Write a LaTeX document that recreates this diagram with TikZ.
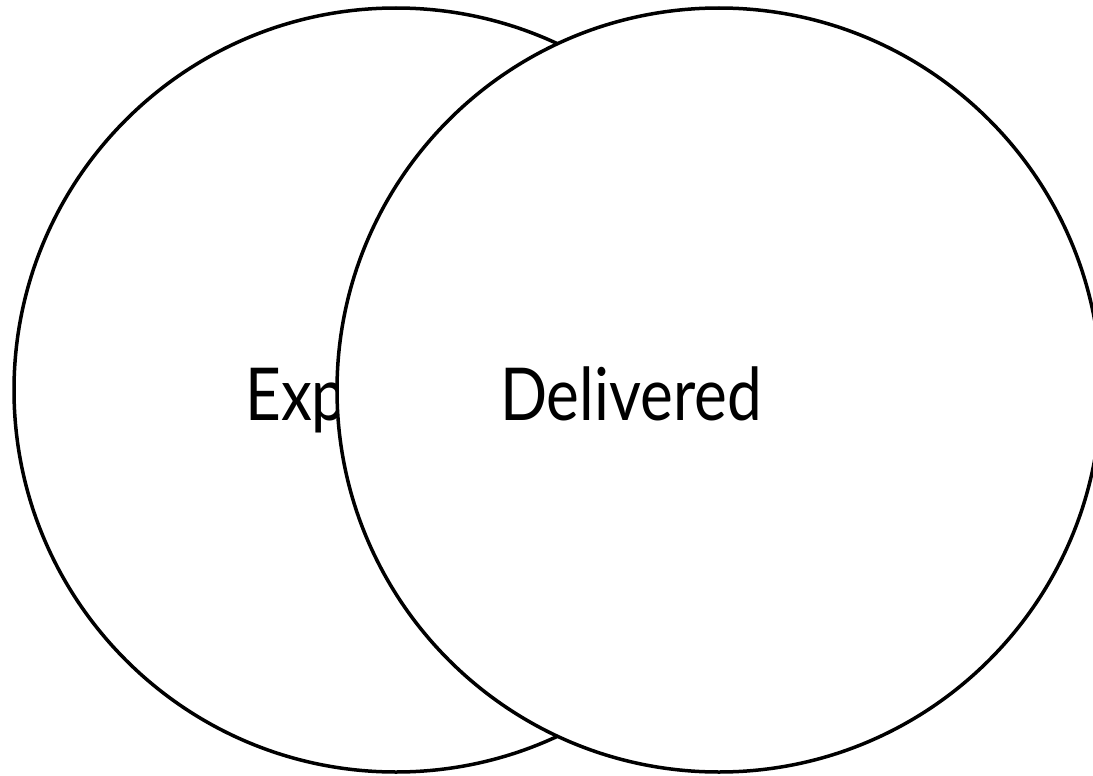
\documentclass[tikz,border=0pt]{standalone}
\usepackage{fontspec}
\setmainfont{Lato}
\newfontfamily\lblfont[FakeStretch=0.85]{Lato}

\begin{document}
\begin{tikzpicture}[x=1pt, y=-1pt,
    set/.style={circle, draw=black, line width=3.5pt, fill=white,
        minimum size=764pt, inner sep=0pt},
    label/.style={anchor=base west, inner sep=0pt,
        font=\lblfont\fontsize{73}{78}\selectfont}
]
    \useasboundingbox (0,0) rectangle (1093,776);
    \node[set] (expected) at (396,390) {};
    \node[label] (explbl) at (245,420) {Expected};
    \node[set] (delivered) at (719,390) {};
    \node[label] (dellbl) at (500,420) {Delivered};
\end{tikzpicture}
\end{document}
